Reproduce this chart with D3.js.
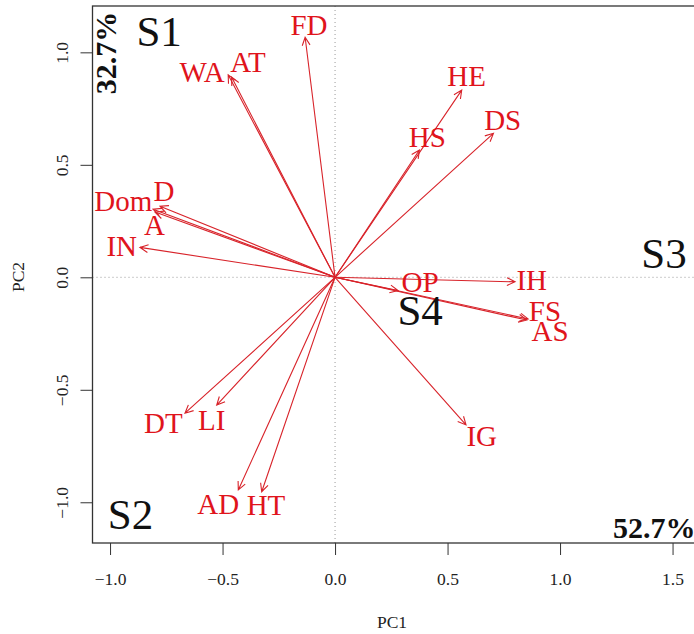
<!DOCTYPE html>
<html lang="en">
<head>
    <meta charset="UTF-8">
    <title>PCA biplot</title>
    <script src="https://d3js.org/d3.v7.min.js"></script>
    <style>
        body {
            margin: 0;
            background: #ffffff;
        }
        svg text {
            font-family: "Liberation Serif", "Times New Roman", serif;
        }
        .tick line {
            stroke: #333;
        }
        .tick text {
            font-size: 17.5px;
            fill: #222;
        }
        .var-label {
            font-size: 29px;
            fill: #e0141c;
        }
        .group-label {
            font-size: 43px;
            fill: #111;
        }
    </style>
</head>
<body>
    <div id="chart"></div>

    <script>
        // variable loadings (arrow tips)
        let variables = ["FD", "WA", "AT", "HE", "HS", "DS", "Dom", "D", "A", "IN",
                         "OP", "IH", "FS", "AS", "IG", "DT", "LI", "AD", "HT"];
        let pc1 = [-0.133, -0.475, -0.46, 0.563, 0.375, 0.704, -0.809, -0.778, -0.80, -0.867,
                   0.28, 0.80, 0.852, 0.858, 0.582, -0.667, -0.526, -0.43, -0.326];
        let pc2 = [1.067, 0.90, 0.89, 0.832, 0.566, 0.64, 0.303, 0.316, 0.29, 0.133,
                   -0.059, -0.02, -0.19, -0.185, -0.656, -0.604, -0.568, -0.945, -0.953];
        // where each label sits, in PC units
        let labelPc1 = [-0.116, -0.591, -0.387, 0.585, 0.41, 0.745, -0.941, -0.76, -0.803, -0.948,
                        0.378, 0.874, 0.933, 0.956, 0.652, -0.763, -0.548, -0.519, -0.307];
        let labelPc2 = [1.121, 0.912, 0.957, 0.892, 0.622, 0.696, 0.336, 0.38, 0.232, 0.139,
                        -0.021, -0.012, -0.153, -0.242, -0.708, -0.649, -0.637, -1.009, -1.012];

        let groups = ["S1", "S2", "S3", "S4"];
        let groupPc1 = [-0.782, -0.909, 1.462, 0.378];
        let groupPc2 = [1.095, -1.052, 0.108, -0.145];

        let xTicks = [-1.0, -0.5, 0.0, 0.5, 1.0, 1.5];
        let yTicks = [-1.0, -0.5, 0.0, 0.5, 1.0];
        let pc1Var = "52.7%";
        let pc2Var = "32.7%";

        let width = 694, height = 634;

        let svg = d3.select("#chart").append("svg")
            .attr("width", width)
            .attr("height", height);

        let x = d3.scaleLinear().domain([-1.078, 1.622]).range([92.5, 700]);
        let y = d3.scaleLinear().domain([-1.181, 1.206]).range([543, 6]);

        let fmt = d3.format(".1f");

        // zero lines
        svg.append("line")
            .attr("x1", x(0)).attr("x2", x(0))
            .attr("y1", y.range()[1]).attr("y2", y.range()[0])
            .attr("stroke", "#9a9a9a").attr("stroke-dasharray", "1,3");
        svg.append("line")
            .attr("x1", x.range()[0]).attr("x2", x.range()[1])
            .attr("y1", y(0)).attr("y2", y(0))
            .attr("stroke", "#9a9a9a").attr("stroke-dasharray", "1,3");

        // axes
        let xAxis = svg.append("g")
            .attr("transform", "translate(0," + y.range()[0] + ")")
            .call(d3.axisBottom(x).tickValues(xTicks).tickFormat(fmt).tickSize(12).tickPadding(18));
        xAxis.attr("font-family", null).attr("font-size", null);
        xAxis.select(".domain").remove();
        xAxis.selectAll("text").attr("dy", "0.66em");

        let yAxis = svg.append("g")
            .attr("transform", "translate(" + x.range()[0] + ",0)")
            .call(d3.axisLeft(y).tickValues(yTicks).tickFormat(fmt).tickSize(12));
        yAxis.attr("font-family", null).attr("font-size", null);
        yAxis.select(".domain").remove();
        yAxis.selectAll("text")
            .attr("transform", "rotate(-90)")
            .attr("x", 0)
            .attr("y", -24.5)
            .attr("dy", 0)
            .attr("text-anchor", "middle");

        // frame
        svg.append("rect")
            .attr("x", x.range()[0])
            .attr("y", y.range()[1])
            .attr("width", x.range()[1] - x.range()[0])
            .attr("height", y.range()[0] - y.range()[1])
            .attr("fill", "none")
            .attr("stroke", "#333")
            .attr("stroke-width", 1.3);

        // axis titles
        svg.append("text")
            .attr("x", 392).attr("y", 628)
            .attr("text-anchor", "middle")
            .style("font-size", "17.5px")
            .attr("fill", "#222")
            .text("PC1");
        svg.append("text")
            .attr("transform", "translate(24,277) rotate(-90)")
            .attr("text-anchor", "middle")
            .style("font-size", "17.5px")
            .attr("fill", "#222")
            .text("PC2");

        // arrows
        let headLen = 9, headAng = Math.PI / 7;
        let arrows = svg.append("g")
            .attr("stroke", "#d8232a")
            .attr("stroke-width", 1.1)
            .attr("fill", "none");

        variables.forEach((v, i) => {
            let x0 = x(0), y0 = y(0);
            let x1 = x(pc1[i]), y1 = y(pc2[i]);
            let a = Math.atan2(y1 - y0, x1 - x0);
            let p = d3.path();
            p.moveTo(x0, y0);
            p.lineTo(x1, y1);
            p.moveTo(x1 - headLen * Math.cos(a - headAng), y1 - headLen * Math.sin(a - headAng));
            p.lineTo(x1, y1);
            p.lineTo(x1 - headLen * Math.cos(a + headAng), y1 - headLen * Math.sin(a + headAng));
            arrows.append("path").attr("d", p.toString());
        });

        svg.selectAll(".var-label")
            .data(variables)
            .enter()
            .append("text")
            .attr("class", "var-label")
            .attr("x", (d, i) => x(labelPc1[i]))
            .attr("y", (d, i) => y(labelPc2[i]))
            .attr("dy", "0.33em")
            .attr("text-anchor", "middle")
            .text(d => d);

        // group labels
        svg.selectAll(".group-label")
            .data(groups)
            .enter()
            .append("text")
            .attr("class", "group-label")
            .attr("x", (d, i) => x(groupPc1[i]))
            .attr("y", (d, i) => y(groupPc2[i]))
            .attr("dy", "0.34em")
            .attr("text-anchor", "middle")
            .text(d => d);

        // explained variance
        svg.append("text")
            .attr("transform", "translate(116,53) rotate(-90)")
            .attr("text-anchor", "middle")
            .style("font-size", "30px")
            .style("font-weight", "bold")
            .attr("fill", "#111")
            .text(pc2Var);
        svg.append("text")
            .attr("x", 613).attr("y", 538)
            .style("font-size", "30px")
            .style("font-weight", "bold")
            .attr("fill", "#111")
            .text(pc1Var);
    </script>
</body>
</html>
